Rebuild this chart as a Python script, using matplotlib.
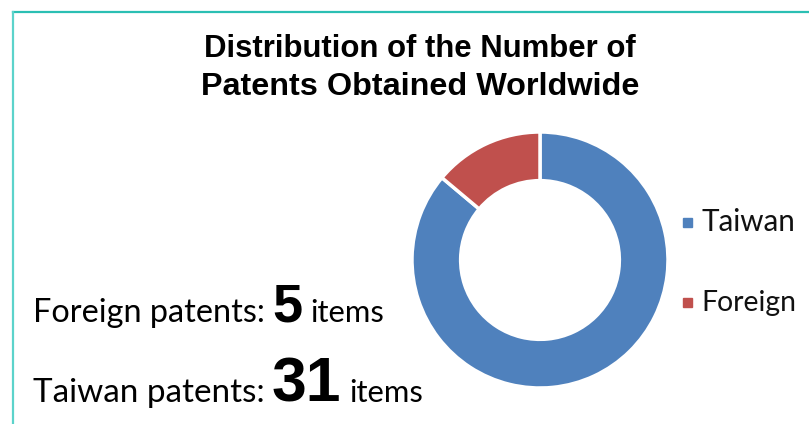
import matplotlib
matplotlib.use("Agg")
import matplotlib.pyplot as plt
from matplotlib.patches import Rectangle

# data
labels = ["Taiwan", "Foreign"]
counts = [31, 5]
colors = ["#4F81BD", "#C0504D"]
title_lines = ["Distribution of the Number of", "Patents Obtained Worldwide"]
text_lines = [("Foreign patents:", "5", "items"), ("Taiwan patents:", "31", "items")]

W, H = 809, 424
fig = plt.figure(figsize=(W / 100, H / 100), dpi=100)
fig.patch.set_facecolor("white")
fig.canvas.draw()
renderer = fig.canvas.get_renderer()


def fit_text(x, y, s, width, **kw):
    # put text and scale font so it is about `width` pixels wide
    t = fig.text(x / W, 1 - y / H, s, fontsize=20, **kw)
    w = t.get_window_extent(renderer).width
    t.set_fontsize(20 * width / w)
    return t


# frame lines (top and left)
fig.add_artist(plt.Line2D([12.5 / W, 1], [1 - 11.5 / H, 1 - 11.5 / H], color="#2BBFB3", lw=1.6))
fig.add_artist(plt.Line2D([12.5 / W, 12.5 / W], [0, 1 - 11.5 / H], color="#5CD3CB", lw=1.6))

# title
for line, base, wid in zip(title_lines, [57, 95], [433, 438]):
    fit_text(420, base, line, wid, ha="center", va="baseline", fontweight="bold",
             family="Liberation Sans", color="black")

# donut
cx, cy, r = 540, 260, 128
ax = fig.add_axes([(cx - r) / W, 1 - (cy + r) / H, 2 * r / W, 2 * r / H])
wedges, _ = ax.pie(counts, colors=colors, startangle=90, counterclock=False,
                   wedgeprops=dict(width=0.38, edgecolor="white", linewidth=2.5))
ax.set_xlim(-1, 1)
ax.set_ylim(-1, 1)
ax.set_aspect("equal")
ax.axis("off")

# legend
for lab, col, y, wid in zip(labels, colors, [222, 302], [94, 95]):
    fig.add_artist(Rectangle((683 / W, 1 - (y + 4.5) / H), 9 / W, 9 / H, color=col,
                             transform=fig.transFigure))
    fit_text(701, y + 9, lab, wid, ha="left", va="baseline", family="Lato", color="#111111")

# left text lines
for (pre, num, post), base, numsize in zip(text_lines, [322, 402], [39, 45]):
    t = fit_text(33, base, pre, 232, ha="left", va="baseline", family="Lato", color="black")
    x = 33 + 232 + 7
    t = fig.text(x / W, 1 - base / H, num, fontsize=numsize, fontweight="bold",
                 family=["Liberation Sans Narrow", "Liberation Sans"],
                 ha="left", va="baseline", color="black")
    x += t.get_window_extent(renderer).width + 8
    fit_text(x, base, post, 74, ha="left", va="baseline", family="Lato", color="black")

fig.savefig("out.png", dpi=100)
